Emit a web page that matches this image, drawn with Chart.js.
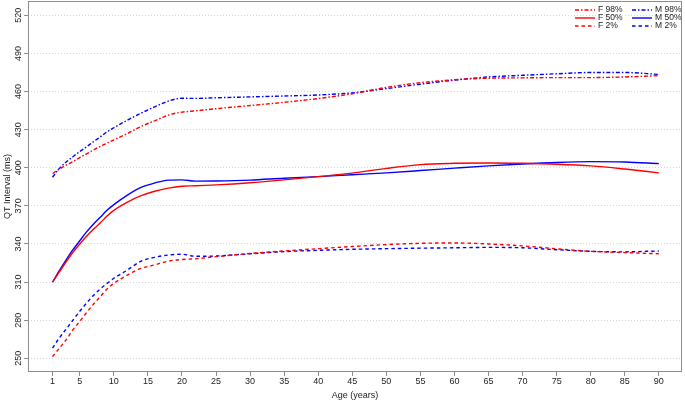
<!DOCTYPE html>
<html>
<head>
<meta charset="utf-8">
<script src="https://cdn.jsdelivr.net/npm/chart.js@4.4.1/dist/chart.umd.min.js"></script>
<style>
  html, body { margin: 0; padding: 0; background: #fff; }
  #wrap { width: 685px; height: 402px; }
</style>
</head>
<body>
<div id="wrap"><canvas id="qtChart" width="685" height="402"></canvas></div>
<script>
// ─── Data ────────────────────────────────────────────────────────────────────
const ages   = [1, 2, 3, 4, 5, 6, 7, 8, 9, 10, 12, 14, 16, 18, 20, 22, 25, 30, 35, 40, 45, 50, 55, 60, 65, 70, 75, 80, 85, 90];

const f98 = [395.5, 399, 402, 404.8, 408, 411, 414, 416.8, 419.3, 422, 427, 432.5, 437, 441.5, 443.8, 444.8, 446.5, 449, 451.5, 454.5, 458.3, 463.3, 467, 469.3, 470.5, 470.8, 471, 471, 471.5, 472.5];
const f50 = [310, 318, 326, 333.5, 340, 346, 351.5, 356.5, 362, 366.5, 373, 378, 381.5, 384, 385.5, 385.8, 386.5, 388.2, 390.5, 393, 395.8, 399.5, 402.5, 403.5, 403.8, 403.5, 402.8, 401.5, 399, 396];
const f2  = [251.3, 258, 264.5, 272.5, 279, 286, 292.5, 298.5, 304.5, 309, 315.5, 320.8, 323.5, 326.5, 327.8, 328.3, 330, 332.5, 334.5, 336.3, 338, 339.5, 340.5, 340.8, 340, 338.5, 336.2, 334.2, 333.2, 332.3];

const m98 = [392.5, 399.5, 404.5, 408.7, 412.8, 416.5, 420.5, 424.3, 428.3, 431.5, 437.5, 443, 448, 452.5, 454.7, 454.6, 455.1, 455.8, 456.5, 457.3, 459, 462.3, 465.8, 469, 471.5, 472.8, 474, 475, 475, 473.5];
const m50 = [310, 319, 327.5, 335.5, 342.5, 349.5, 355.5, 361, 366.5, 371, 378.5, 384.5, 388, 390.3, 390.5, 389.5, 389.6, 390.3, 391.8, 393, 394.5, 396, 397.8, 399.7, 401.5, 403, 404.2, 404.8, 404.5, 403.3];
const m2  = [258, 266, 273, 280, 287, 293.5, 299.5, 304.5, 309, 313, 319.5, 326.5, 329.5, 331.3, 331.9, 330.3, 330.5, 332.3, 334, 335, 335.8, 336.3, 336.7, 337, 337.3, 337, 335.5, 334.2, 333.8, 334.5];

const seriesLabels = ['F 98%', 'F 50%', 'F 2%', 'M 98%', 'M 50%', 'M 2%'];
const xTicks = [1, 5, 10, 15, 20, 25, 30, 35, 40, 45, 50, 55, 60, 65, 70, 75, 80, 85, 90];
const yTicks = [250, 280, 310, 340, 370, 400, 430, 460, 490, 520];

// ─── Styles ──────────────────────────────────────────────────────────────────
const FONT = 'Liberation Sans, Arial, Helvetica, sans-serif';
const RED = '#ff0000';
const BLUE = '#0000ff';
const DOTDASH = [4, 2, 1.5, 2];
const DASHED = [3.5, 3];

const toPoints = (vals) => ages.map((a, i) => ({ x: a, y: vals[i] }));

const makeSet = (label, vals, color, dash) => ({
    label,
    data: toPoints(vals),
    borderColor: color,
    borderWidth: 1.4,
    borderDash: dash,
    pointRadius: 0,
    fill: false,
    cubicInterpolationMode: 'monotone'
});

// ─── Plugins: box, rotated y labels, legend ──────────────────────────────────
const boxPlugin = {
    id: 'box',
    afterDatasetsDraw(chart) {
        const { ctx, chartArea: a } = chart;
        ctx.save();
        ctx.strokeStyle = '#8c8c8c';
        ctx.lineWidth = 1;
        ctx.strokeRect(Math.round(a.left) + 0.5, Math.round(a.top) + 0.5,
            Math.round(a.right - a.left) - 1, Math.round(a.bottom - a.top) - 1);
        ctx.restore();
    }
};

const yLabelPlugin = {
    id: 'yLabels',
    afterDraw(chart) {
        const { ctx } = chart;
        const y = chart.scales.y;
        ctx.save();
        ctx.fillStyle = '#222';
        ctx.font = `9px ${FONT}`;
        ctx.textAlign = 'center';
        ctx.textBaseline = 'middle';
        y.ticks.forEach(t => {
            const py = y.getPixelForValue(t.value);
            ctx.save();
            ctx.translate(19, py);
            ctx.rotate(-Math.PI / 2);
            ctx.fillText(String(t.value), 0, 0);
            ctx.restore();
        });
        ctx.restore();
    }
};

const legendPlugin = {
    id: 'cornerLegend',
    afterDraw(chart) {
        const { ctx } = chart;
        const cols = [{ x0: 575, x1: 595, tx: 598 }, { x0: 632, x1: 652, tx: 655 }];
        const rows = [10, 18, 26];
        ctx.save();
        ctx.font = `8.5px ${FONT}`;
        ctx.textAlign = 'left';
        ctx.textBaseline = 'middle';
        chart.data.datasets.forEach((ds, i) => {
            const c = cols[Math.floor(i / 3)];
            const y = rows[i % 3];
            ctx.strokeStyle = ds.borderColor;
            ctx.lineWidth = ds.borderWidth;
            ctx.setLineDash(ds.borderDash || []);
            ctx.beginPath();
            ctx.moveTo(c.x0, y);
            ctx.lineTo(c.x1, y);
            ctx.stroke();
            ctx.setLineDash([]);
            ctx.fillStyle = '#222';
            ctx.fillText(ds.label, c.tx, y);
        });
        ctx.restore();
    }
};

// ─── Chart ───────────────────────────────────────────────────────────────────
window.addEventListener('DOMContentLoaded', () => {
    const ctx = document.getElementById('qtChart').getContext('2d');

    new Chart(ctx, {
        type: 'line',
        data: {
            datasets: [
                makeSet(seriesLabels[0], f98, RED, DOTDASH),
                makeSet(seriesLabels[1], f50, RED, []),
                makeSet(seriesLabels[2], f2, RED, DASHED),
                makeSet(seriesLabels[3], m98, BLUE, DOTDASH),
                makeSet(seriesLabels[4], m50, BLUE, []),
                makeSet(seriesLabels[5], m2, BLUE, DASHED)
            ]
        },
        options: {
            responsive: false,
            devicePixelRatio: 1,
            animation: false,
            layout: { padding: { top: 1, right: 3, left: 0, bottom: 0 } },
            plugins: {
                legend: { display: false },
                tooltip: { enabled: false }
            },
            scales: {
                x: {
                    type: 'linear',
                    min: -2.6,
                    max: 93.4,
                    afterBuildTicks: (s) => { s.ticks = xTicks.map(v => ({ value: v })); },
                    afterFit: (s) => { s.height = 30; },
                    grid: { drawOnChartArea: false, drawTicks: true, tickLength: 4, color: '#8c8c8c' },
                    border: { display: false },
                    ticks: { color: '#222', font: { family: FONT, size: 9 }, padding: 0, maxRotation: 0, autoSkip: false },
                    title: { display: true, text: 'Age (years)', color: '#222', font: { family: FONT, size: 9 }, padding: { top: 0, bottom: 1 } }
                },
                y: {
                    type: 'linear',
                    min: 239.2,
                    max: 531.3,
                    afterBuildTicks: (s) => { s.ticks = yTicks.map(v => ({ value: v })); },
                    afterFit: (s) => { s.width = 28; },
                    grid: { color: '#d6d6d6', lineWidth: 1, drawTicks: true, tickLength: 4, tickColor: '#8c8c8c', tickBorderDash: [] },
                    border: { display: false, dash: [1, 2] },
                    ticks: { display: false },
                    title: { display: true, text: 'QT Interval (ms)', color: '#222', font: { family: FONT, size: 9 }, padding: { top: 2, bottom: 0 } }
                }
            }
        },
        plugins: [boxPlugin, yLabelPlugin, legendPlugin]
    });
});
</script>
</body>
</html>
